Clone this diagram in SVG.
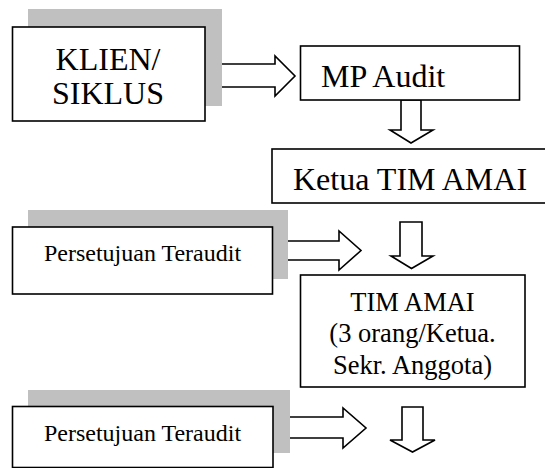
<svg xmlns="http://www.w3.org/2000/svg" width="545" height="468" viewBox="0 0 545 468">
<style>
.box{fill:#fff;stroke:#000;stroke-width:1.6}
.shadow{fill:#c0c0c0;stroke:none}
.arrow{fill:#fff;stroke:#000;stroke-width:1.6;stroke-linejoin:miter}
.t{font-family:'Liberation Serif','Times New Roman',serif;fill:#000}
.big{font-size:32px}
.mid{font-size:26.5px}
.small{font-size:24px}
</style>
<rect width="545" height="468" fill="#fff"/>
<g id="connectors">
<polygon class="arrow" points="205,64 275,64 275,56 295,76 275,96 275,87 205,87"/>
<polygon class="arrow" points="401,100 421,100 421,130 433,130 411,143 390,130 401,130"/>
<polygon class="arrow" points="272,241 339,241 339,231 361,250.5 339,270 339,260 272,260"/>
<polygon class="arrow" points="400,222 422,222 422,256 433,256 411.5,268.5 391,256 400,256"/>
<polygon class="arrow" points="273,417 343,417 343,408 366,428 343,448 343,438 273,438"/>
<polygon class="arrow" points="402,407 423,407 423,440 435,440 412.5,452 390,440 402,440"/>
</g>
<g id="klien">
<rect class="shadow" x="28" y="9" width="194" height="97"/>
<rect class="box" x="12.5" y="27" width="192.5" height="94"/>
<text class="t big" x="108" y="70" text-anchor="middle">KLIEN/</text>
<text class="t big" x="108" y="104" text-anchor="middle">SIKLUS</text>
</g>
<g id="mp-audit">
<rect class="box" x="300.5" y="46" width="219" height="54"/>
<text class="t big" x="321" y="87">MP Audit</text>
</g>
<g id="ketua">
<rect class="box" x="272" y="149" width="280" height="54"/>
<text class="t big" x="293" y="190">Ketua TIM AMAI</text>
</g>
<g id="persetujuan-1">
<rect class="shadow" x="28" y="210" width="260" height="69"/>
<rect class="box" x="12.5" y="227" width="260" height="67"/>
<text class="t small" x="142.5" y="261" text-anchor="middle">Persetujuan Teraudit</text>
</g>
<g id="tim-amai">
<rect class="box" x="300.5" y="275" width="224.5" height="112"/>
<text class="t mid" x="412.5" y="311" text-anchor="middle">TIM AMAI</text>
<text class="t mid" x="412.5" y="342" text-anchor="middle">(3 orang/Ketua.</text>
<text class="t mid" x="412.5" y="374" text-anchor="middle">Sekr. Anggota)</text>
</g>
<g id="persetujuan-2">
<rect class="shadow" x="28" y="390" width="262" height="63"/>
<rect class="box" x="12.5" y="406.5" width="260.5" height="61"/>
<text class="t small" x="142.5" y="441" text-anchor="middle">Persetujuan Teraudit</text>
</g>
</svg>
